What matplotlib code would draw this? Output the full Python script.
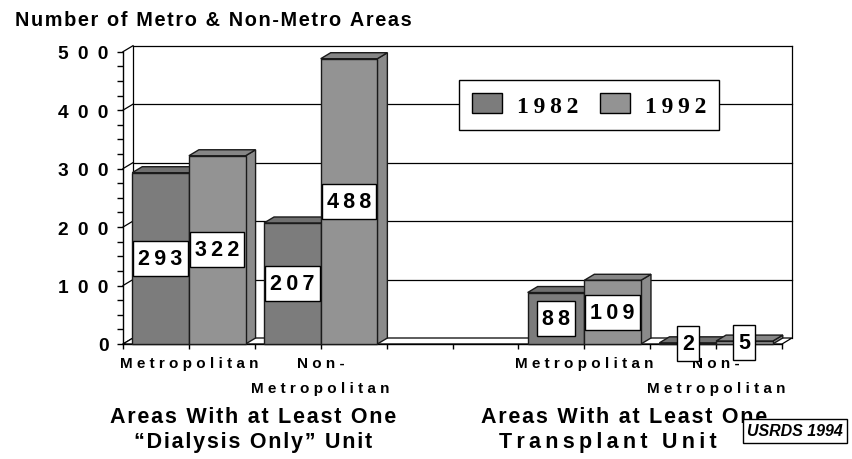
import matplotlib
matplotlib.use("Agg")
import matplotlib.pyplot as plt
import numpy as np
from matplotlib.patches import Polygon, Rectangle, Patch
from matplotlib.font_manager import FontProperties
from matplotlib.ticker import FixedLocator, MultipleLocator
from matplotlib.transforms import IdentityTransform

# ---------------- data ----------------
categories = ["Metropolitan", "Non-\nMetropolitan", "", "Metropolitan", "Non-\nMetropolitan"]
series_names = ["1982", "1992"]
values_1982 = [293, 207, np.nan, 88, 2]
values_1992 = [322, 488, np.nan, 109, 5]
y_ticks = [0, 100, 200, 300, 400, 500]
title = "Number of Metro & Non-Metro Areas"
group_title_lines = [["Areas With at Least One", "\u201cDialysis Only\u201d Unit"],
                     ["Areas With at Least One", "Transplant Unit"]]
source = "USRDS 1994"

# ---------------- style ----------------
plt.rcParams['font.family'] = ['Liberation Sans', 'DejaVu Sans']
W, H = 852, 460
fig = plt.figure(figsize=(W / 100, H / 100), dpi=100)
ax_l, ax_b, ax_w, ax_h = 123, 115, 659, 292.3
ax = fig.add_axes([ax_l / W, ax_b / H, ax_w / W, ax_h / H])
ax.set_xlim(-0.5, len(categories) - 0.5)
ax.set_ylim(0, 500)

px_x = ax_w / len(categories)
px_y = ax_h / 500
DX = 10 / px_x
DY = 6 / px_y

front_cols = ["#7c7c7c", "#939393"]
top_cols = ["#707070", "#868686"]
side_cols = ["#747474", "#8b8b8b"]
edge = "#1a1a1a"

def spaced(s, sep="\u200a"):
    return sep.join(s)

# spines / ticks
for s in ["top", "right"]:
    ax.spines[s].set_visible(False)
for s in ["left", "bottom"]:
    ax.spines[s].set_color("black")
    ax.spines[s].set_linewidth(1)
    ax.spines[s].set_zorder(2.5)

ax.yaxis.set_major_locator(FixedLocator(y_ticks))
ax.yaxis.set_minor_locator(MultipleLocator(25))
ax.set_yticklabels([spaced(str(t), " \u2009") for t in y_ticks], fontsize=13.8, fontweight="bold")
ax.tick_params(axis="y", which="both", direction="out", length=4.3, width=1, color="black", pad=6)

xpos = np.arange(len(categories))
ax.xaxis.set_major_locator(FixedLocator(xpos))
ax.xaxis.set_minor_locator(FixedLocator(np.arange(len(categories) + 1) - 0.5))
ax.set_xticklabels(["\n".join(" ".join(line) for line in c.split("\n")) for c in categories],
                   fontsize=11, fontweight="bold")
for t in ax.get_xticklabels():
    t.set_linespacing(2.0)
ax.tick_params(axis="x", which="both", direction="out", length=3.6, width=1, color="black", pad=5)

# back wall, left wall, floor
x0, x1 = -0.5, len(categories) - 0.5
lk = dict(color="black", lw=0.9, clip_on=False, zorder=1)
for y in y_ticks:
    if y > 0:
        ax.plot([x0 + DX, x1 + DX], [y + DY, y + DY], **lk)
    ax.plot([x0, x0 + DX], [y, y + DY], **lk)
ax.plot([x0 + DX, x0 + DX], [DY, 500 + DY], **lk)
ax.plot([x1 + DX, x1 + DX], [DY, 500 + DY], **lk)
ax.add_patch(Polygon([(x0, 0), (x1, 0), (x1 + DX, DY), (x0 + DX, DY)], closed=True,
                     fc="white", ec="black", lw=0.9, clip_on=False, zorder=2))

# bars
bw = 0.43
def bar3d(xl, w, h, k, z):
    ax.add_patch(Polygon([(xl + w, 0), (xl + w + DX, DY), (xl + w + DX, h + DY), (xl + w, h)],
                         closed=True, fc=side_cols[k], ec=edge, lw=1, zorder=z, clip_on=False))
    ax.add_patch(Polygon([(xl, h), (xl + w, h), (xl + w + DX, h + DY), (xl + DX, h + DY)],
                         closed=True, fc=top_cols[k], ec=edge, lw=1, zorder=z, clip_on=False))
    ax.add_patch(Rectangle((xl, 0), w, h, fc=front_cols[k], ec=edge, lw=1, zorder=z + 0.1,
                           clip_on=False))

z = 3
for i, c in enumerate(xpos):
    for k, vals in enumerate([values_1982, values_1992]):
        v = vals[i]
        if np.isnan(v):
            continue
        xl = c - bw if k == 0 else c
        bar3d(xl, bw, v, k, z)
        z += 1

value_texts = []
for i, c in enumerate(xpos):
    for k, vals in enumerate([values_1982, values_1992]):
        v = vals[i]
        if np.isnan(v):
            continue
        xc = c - bw / 2 if k == 0 else c + bw / 2
        t = ax.text(xc, v / 2, spaced(str(int(v)), "\u2009"), ha="center", va="center",
                    fontsize=15.5, fontweight="bold", zorder=40)
        value_texts.append(t)

# legend
handles = [Patch(fc=front_cols[k], ec="black", lw=1) for k in range(2)]
leg = ax.legend(handles, [spaced(s, "\u2009") for s in series_names], loc="center",
                bbox_to_anchor=(589 / W, 1 - 106 / H), bbox_transform=fig.transFigure,
                ncol=2, prop=FontProperties(family="Liberation Serif", weight="bold", size=17),
                frameon=True, fancybox=False, edgecolor="black", framealpha=1,
                handlelength=1.27, handleheight=0.93, handletextpad=0.64,
                columnspacing=0.9, borderpad=0.55)
leg.get_frame().set_linewidth(1)
leg.set_zorder(50)

# texts
fig.text(15 / W, 1 - 21 / H, spaced(title), ha="left", va="center", fontsize=14.3,
         fontweight="bold")
title_cx = [[253, 253], [624, 608]]
title_cy = [418, 443]
title_sep = [["\u200a", "\u200a"], ["\u200a", "\u2009"]]
for g, lines in enumerate(group_title_lines):
    for j, line in enumerate(lines):
        fig.text(title_cx[g][j] / W, 1 - title_cy[j] / H, spaced(line, title_sep[g][j]),
                 ha="center", va="center", fontsize=15.5, fontweight="bold")
fig.text(795 / W, 1 - 432 / H, source, ha="center", va="center", fontsize=11.5,
         fontweight="bold", style="italic",
         bbox=dict(boxstyle="square,pad=0.28", fc="white", ec="black", lw=1))

# white boxes behind value labels (sized from the rendered text)
fig.canvas.draw()
renderer = fig.canvas.get_renderer()
for t in value_texts:
    bb = t.get_window_extent(renderer)
    cy = (bb.y0 + bb.y1) / 2
    ax.add_patch(Rectangle((bb.x0 - 5, cy - 17.5), bb.width + 10, 35, transform=IdentityTransform(),
                           fc="white", ec="black", lw=1, zorder=39, clip_on=False))

fig.savefig("out.png", dpi=100)
